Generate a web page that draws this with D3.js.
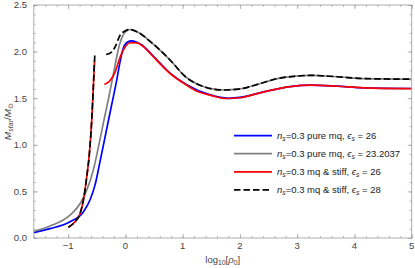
<!DOCTYPE html>
<html><head><meta charset="utf-8">
<script src="https://cdn.jsdelivr.net/npm/d3@7"></script>
<style>
html,body{margin:0;padding:0;background:#fff;}
svg{display:block;font-family:"Liberation Sans",Arial,sans-serif;}
</style></head>
<body><svg id="c" width="415" height="268"></svg>
<script>
// ---- data (log10 rho0, M/Msun) ----
const blueX = [-1.6,-1.316,-0.967,-0.734,-0.617,-0.53,-0.45,-0.35,-0.25,-0.15,-0.09,-0.04,0.02,0.10,0.2,0.3,0.49,0.78,1.07,1.481,1.8,2.0,2.413,2.879,3.25,3.7,4.16,5.0];
const blueY = [0.058,0.10,0.175,0.28,0.41,0.57,0.80,1.10,1.40,1.70,1.90,2.03,2.095,2.115,2.10,2.065,1.95,1.77,1.645,1.535,1.499,1.508,1.568,1.625,1.641,1.629,1.611,1.604];

const grayX = [-1.6,-1.316,-0.967,-0.79,-0.675,-0.56,-0.47,-0.38,-0.29,-0.21,-0.15,-0.10,-0.04,0.03,0.082,0.227,0.45,0.78,1.05,1.36,1.7,2.0,2.36,2.65,2.94,3.25,3.7,4.2,5.0];
const grayY = [0.072,0.129,0.246,0.37,0.514,0.73,0.98,1.25,1.51,1.76,1.95,2.08,2.18,2.225,2.237,2.205,2.10,1.91,1.73,1.625,1.588,1.60,1.658,1.71,1.735,1.745,1.73,1.71,1.704];

const redLowX = [-0.996,-0.88,-0.79,-0.734,-0.675,-0.63,-0.588,-0.56,-0.54];
const redLowY = [0.115,0.175,0.265,0.407,0.657,0.90,1.265,1.62,1.90];
const redX = [-0.367,-0.267,-0.18,-0.093,-0.005,0.082,0.2,0.3,0.49,0.78,1.07,1.25,1.481,1.75,2.0,2.4,2.88,3.25,3.7,4.16,5.0];
const redY = [1.647,1.69,1.78,1.94,2.05,2.095,2.093,2.06,1.943,1.765,1.64,1.575,1.533,1.497,1.505,1.565,1.625,1.64,1.628,1.611,1.603];

const blackLowX = [-0.996,-0.88,-0.79,-0.734,-0.675,-0.63,-0.588,-0.56,-0.535];
const blackLowY = [0.115,0.175,0.265,0.407,0.657,0.90,1.265,1.62,1.96];
const blackX = [-0.337,-0.238,-0.18,-0.093,-0.005,0.082,0.227,0.45,0.78,1.05,1.36,1.7,2.0,2.36,2.65,2.94,3.25,3.7,4.2,5.0];
const blackY = [1.969,1.997,2.05,2.176,2.222,2.237,2.205,2.10,1.91,1.73,1.625,1.588,1.60,1.658,1.71,1.735,1.745,1.73,1.71,1.704];

const xTicks = [-1,0,1,2,3,4,5];
const xTickLabels = ["\u22121","0","1","2","3","4","5"];
const yTicks = [0,0.5,1,1.5,2,2.5];
const yTickLabels = ["0.0","0.5","1.0","1.5","2.0","2.5"];

const legendItems = [
  {name:"pure mq", eps:"26", color:"#0000ff", dash:null},
  {name:"pure mq", eps:"23.2037", color:"#808080", dash:null},
  {name:"mq & stiff", eps:"26", color:"#ff0000", dash:null},
  {name:"mq & stiff", eps:"28", color:"#000000", dash:"6.5,3"}
];

// ---- chart ----
const svg = d3.select("#c");
const L=33.8, R=411.7, T=5, B=238;
const x = d3.scaleLinear().domain([-1.6,5]).range([L,R]);
const y = d3.scaleLinear().domain([0,2.5]).range([B,T]);
const frameCol = "#9a9a9a", labelCol = "#444";

svg.append("defs").append("clipPath").attr("id","clip")
  .append("rect").attr("x",L).attr("y",T).attr("width",R-L).attr("height",B-T);

const zip = (a,b)=>a.map((v,i)=>[v,b[i]]);
const line = d3.line().x(d=>x(d[0])).y(d=>y(d[1])).curve(d3.curveMonotoneX);
const g = svg.append("g").attr("clip-path","url(#clip)");
function draw(xs,ys,color,dash){
  g.append("path").attr("d",line(zip(xs,ys))).attr("fill","none")
   .attr("stroke",color).attr("stroke-width",1.7)
   .attr("stroke-dasharray",dash).attr("stroke-linejoin","round");
}
draw(blueX,blueY,"#0000ff",null);
draw(grayX,grayY,"#808080",null);
draw(redLowX,redLowY,"#ff0000",null);
draw(redX,redY,"#ff0000",null);
draw(blackLowX,blackLowY,"#000000","6.5,3");
draw(blackX,blackY,"#000000","6.5,3");

// frame
svg.append("rect").attr("x",L).attr("y",T).attr("width",R-L).attr("height",B-T)
  .attr("fill","none").attr("stroke",frameCol).attr("stroke-width",0.8);

// ticks via axes (inner ticks)
const xMinor = d3.range(-1.6,5.001,0.2).map(v=>+v.toFixed(2));
const yMinor = d3.range(0,2.501,0.1).map(v=>+v.toFixed(2));
function tickStyle(sel){ sel.select(".domain").remove(); sel.selectAll("line").attr("stroke",frameCol).attr("stroke-width",0.7); sel.selectAll("text").remove(); }
svg.append("g").attr("transform",`translate(0,${B})`).call(d3.axisTop(x).tickValues(xMinor).tickSize(2)).call(tickStyle);
svg.append("g").attr("transform",`translate(0,${B})`).call(d3.axisTop(x).tickValues(xTicks).tickSize(4)).call(tickStyle);
svg.append("g").attr("transform",`translate(0,${T})`).call(d3.axisBottom(x).tickValues(xMinor).tickSize(2)).call(tickStyle);
svg.append("g").attr("transform",`translate(0,${T})`).call(d3.axisBottom(x).tickValues(xTicks).tickSize(4)).call(tickStyle);
svg.append("g").attr("transform",`translate(${L},0)`).call(d3.axisRight(y).tickValues(yMinor).tickSize(2)).call(tickStyle);
svg.append("g").attr("transform",`translate(${L},0)`).call(d3.axisRight(y).tickValues(yTicks).tickSize(4)).call(tickStyle);
svg.append("g").attr("transform",`translate(${R},0)`).call(d3.axisLeft(y).tickValues(yMinor).tickSize(2)).call(tickStyle);
svg.append("g").attr("transform",`translate(${R},0)`).call(d3.axisLeft(y).tickValues(yTicks).tickSize(4)).call(tickStyle);

// tick labels
svg.append("g").selectAll("text").data(xTicks).join("text")
  .attr("x",d=>x(d)).attr("y",248.5).attr("text-anchor","middle")
  .attr("font-size",9.5).attr("fill",labelCol).text((d,i)=>xTickLabels[i]);
svg.append("g").selectAll("text").data(yTicks).join("text")
  .attr("x",27).attr("y",d=>y(d)+3.4).attr("text-anchor","end")
  .attr("font-size",9.5).attr("fill",labelCol).text((d,i)=>yTickLabels[i]);

// x label
const xl = svg.append("text").attr("x",(L+R)/2).attr("y",263).attr("text-anchor","middle")
  .attr("font-size",9.5).attr("fill",labelCol);
xl.append("tspan").text("log");
xl.append("tspan").attr("font-size",6.8).attr("dy",2).text("10");
xl.append("tspan").attr("dy",-2).text("[");
xl.append("tspan").attr("font-style","italic").text("\u03c1");
xl.append("tspan").attr("font-size",6.8).attr("dy",2).text("0");
xl.append("tspan").attr("dy",-2).text("]");

// y label
const yl = svg.append("text").attr("transform",`translate(11,${(T+B)/2}) rotate(-90)`)
  .attr("text-anchor","middle").attr("font-size",9.8).attr("fill",labelCol);
yl.append("tspan").attr("font-style","italic").text("M");
yl.append("tspan").attr("font-size",7).attr("font-style","italic").attr("dy",2).text("star");
yl.append("tspan").attr("dy",-2).text("/");
yl.append("tspan").attr("font-style","italic").text("M");
yl.append("tspan").attr("font-size",7).attr("dy",2).text("\u2299");

// legend
const lg = svg.append("g");
legendItems.forEach((it,i)=>{
  const yy = 135.6 + i*18.1;
  lg.append("line").attr("x1",234).attr("x2",272).attr("y1",yy).attr("y2",yy)
    .attr("stroke",it.color).attr("stroke-width",1.7).attr("stroke-dasharray",it.dash);
  const t = lg.append("text").attr("x",277).attr("y",yy+3.3).attr("font-size",9.5).attr("fill","#222");
  t.append("tspan").attr("font-style","italic").text("n");
  t.append("tspan").attr("font-style","italic").attr("font-size",6.8).attr("dy",2).text("s");
  t.append("tspan").attr("dy",-2).text("=0.3 "+it.name+", ");
  t.append("tspan").attr("font-style","italic").text("\u03f5");
  t.append("tspan").attr("font-style","italic").attr("font-size",6.8).attr("dy",2).text("s");
  t.append("tspan").attr("dy",-2).text(" = "+it.eps);
});
</script></body></html>
